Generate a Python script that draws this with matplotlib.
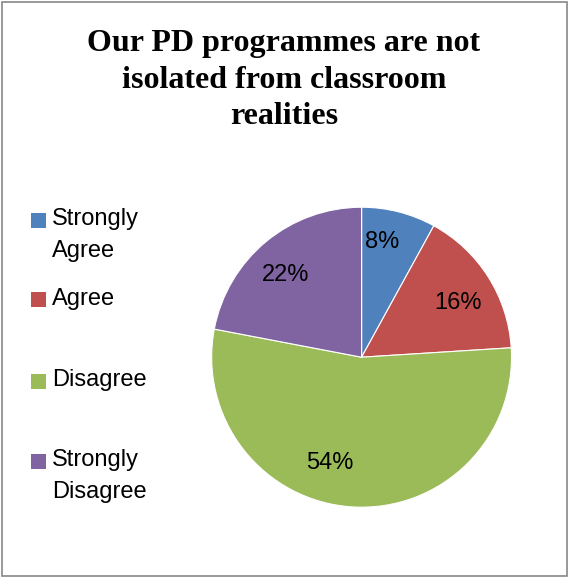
import matplotlib
matplotlib.use("Agg")
import matplotlib.pyplot as plt
from matplotlib.patches import Rectangle

categories = ["Strongly\nAgree", "Agree", "Disagree", "Strongly\nDisagree"]
values = [8, 16, 54, 22]
colors = ["#4F81BD", "#C0504D", "#9BBB59", "#8064A2"]
title = "Our PD programmes are not\nisolated from classroom\nrealities"

label_font = ["Liberation Sans", "DejaVu Sans"]

fig = plt.figure(figsize=(5.69, 5.78), dpi=100)

# outer border of the chart area
fig.patches.append(Rectangle((0.004, 0.004), 0.992, 0.992, transform=fig.transFigure,
                             fill=False, edgecolor="#878787", linewidth=1.2))

fig.text(0.499, 0.949, title, ha="center", va="top", family="Liberation Serif",
         fontweight="bold", fontsize=23, linespacing=1.34)

ax = fig.add_axes([0.372, 0.1225, 0.527, 0.519])
wedges, texts, autotexts = ax.pie(values, colors=colors, startangle=90, counterclock=False,
                                  autopct="%d%%", pctdistance=0.75, radius=1,
                                  wedgeprops=dict(edgecolor="white", linewidth=0.8))
# small nudges so the labels sit where the original put them
nudges = [(-0.047, 0.04), (0.013, -0.04), (-0.167, 0.04), (-0.027, -0.027)]
for t, (dx, dy) in zip(autotexts, nudges):
    x, y = t.get_position()
    t.set_position((x + dx, y + dy))
    t.set_family(label_font)
    t.set_fontsize(17)
    t.set_color("black")
ax.set_xlim(-1, 1)
ax.set_ylim(-1, 1)
ax.set_aspect("auto")

# legend drawn by hand, first line of each label next to its square
leg_y = [220, 300, 381, 461]
for cat, col, yp in zip(categories, colors, leg_y):
    yf = 1 - yp / 578
    fig.patches.append(Rectangle((31 / 569, yf - 7.5 / 578), 15 / 569, 15 / 578,
                                 transform=fig.transFigure, facecolor=col, edgecolor="none"))
    fig.text(52 / 569, yf + 12 / 578, cat, ha="left", va="top", family=label_font,
             fontsize=17, linespacing=1.6)

fig.savefig("out.png", dpi=100)
